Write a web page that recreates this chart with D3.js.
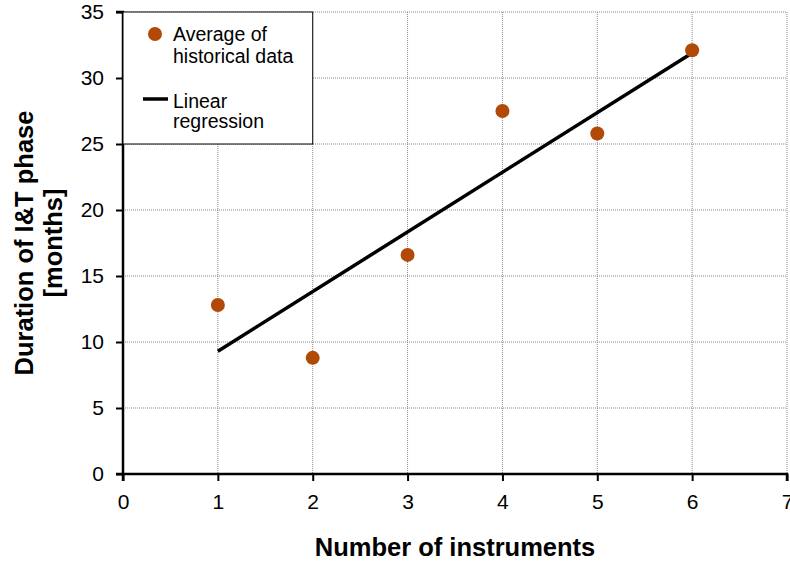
<!DOCTYPE html>
<html>
<head>
<meta charset="utf-8">
<script src="https://cdn.jsdelivr.net/npm/d3@7"></script>
<style>
  html, body { margin: 0; padding: 0; background: #fff; }
  svg { display: block; font-family: "Liberation Sans", Arial, Helvetica, sans-serif; }
</style>
</head>
<body>
<svg id="chart" width="790" height="565"></svg>
<script>
// ---- Data ----
const instruments = [1, 2, 3, 4, 5, 6];
const durations = [12.8, 8.8, 16.6, 27.5, 25.8, 32.1];
const regressionX = [1, 6];
const regressionY = [9.3, 31.9];
const xTicks = [0, 1, 2, 3, 4, 5, 6, 7];
const yTicks = [0, 5, 10, 15, 20, 25, 30, 35];
const legendLabels = [["Average of", "historical data"], ["Linear", "regression"]];
const xTitle = "Number of instruments";
const yTitle = ["Duration of I&T phase", "[months]"];

// ---- Layout ----
const svg = d3.select("#chart");
const pL = 123, pR = 787, pT = 12, pB = 474;
const x = d3.scaleLinear().domain([0, 7]).range([pL, pR]);
const y = d3.scaleLinear().domain([0, 35]).range([pB, pT]);

// Gridlines
const grid = svg.append("g");
grid.selectAll("line.v").data(xTicks.filter(d => d > 0)).join("line")
  .attr("x1", d => x(d)).attr("x2", d => x(d))
  .attr("y1", pT).attr("y2", pB)
  .attr("stroke", "#888").attr("stroke-width", 1).attr("stroke-dasharray", "1,1");
grid.selectAll("line.h").data(yTicks.filter(d => d > 0)).join("line")
  .attr("x1", pL).attr("x2", pR)
  .attr("y1", d => y(d)).attr("y2", d => y(d))
  .attr("stroke", "#888").attr("stroke-width", 1).attr("stroke-dasharray", "1,1");

// Axes
const xAxis = svg.append("g").attr("transform", `translate(0,${pB})`)
  .call(d3.axisBottom(x).tickValues(xTicks).tickSize(7).tickPadding(13).tickFormat(d3.format("d")));
const yAxis = svg.append("g").attr("transform", `translate(${pL},0)`)
  .call(d3.axisLeft(y).tickValues(yTicks).tickSize(7).tickPadding(12).tickFormat(d3.format("d")));
[xAxis, yAxis].forEach(a => {
  a.select(".domain").attr("stroke", "#000").attr("stroke-width", 2.5);
  a.selectAll(".tick line").attr("stroke", "#000").attr("stroke-width", 2);
  a.selectAll(".tick text").attr("fill", "#000").style("font-size", "21px")
    .style("font-family", "'Liberation Sans', Arial, sans-serif");
});
yAxis.select(".domain").attr("d", `M-7,${pT}H0V${pB}H-7`);
xAxis.select(".domain").attr("d", `M${pL},7V0H${pR}V7`);

// Regression line
const regData = regressionX.map((d, i) => ({ x: d, y: regressionY[i] }));
svg.append("path").datum(regData)
  .attr("d", d3.line().x(d => x(d.x)).y(d => y(d.y)))
  .attr("stroke", "#000").attr("stroke-width", 3.5).attr("fill", "none");

// Points
svg.append("g").selectAll("circle").data(instruments.map((d, i) => ({ x: d, y: durations[i] })))
  .join("circle")
  .attr("cx", d => x(d.x)).attr("cy", d => y(d.y)).attr("r", 7)
  .attr("fill", "#b04a06");

// Legend
const lg = svg.append("g");
lg.append("rect").attr("x", pL).attr("y", pT).attr("width", x(2) - pL).attr("height", y(25) - pT)
  .attr("fill", "#fff").attr("stroke", "#000").attr("stroke-width", 1);
lg.append("circle").attr("cx", 155).attr("cy", 34).attr("r", 7).attr("fill", "#b04a06");
lg.append("line").attr("x1", 143).attr("x2", 168).attr("y1", 99).attr("y2", 99)
  .attr("stroke", "#000").attr("stroke-width", 3.5);
const lt = [[41, 63], [108, 128]];
legendLabels.forEach((lines, i) => {
  lines.forEach((t, j) => {
    lg.append("text").attr("x", 173).attr("y", lt[i][j]).text(t)
      .style("font-size", "19.5px").attr("fill", "#000");
  });
});

// Axis titles
svg.append("text").attr("x", (pL + pR) / 2).attr("y", 556).attr("text-anchor", "middle")
  .style("font-size", "25.5px").style("font-weight", "bold").text(xTitle);
const yt = svg.append("text").attr("transform", `translate(33,${(pT + pB) / 2}) rotate(-90)`)
  .attr("text-anchor", "middle").style("font-size", "25.5px").style("font-weight", "bold");
yTitle.forEach((t, i) => yt.append("tspan").attr("x", 0).attr("dy", i === 0 ? 0 : 29).text(t));
</script>
</body>
</html>
